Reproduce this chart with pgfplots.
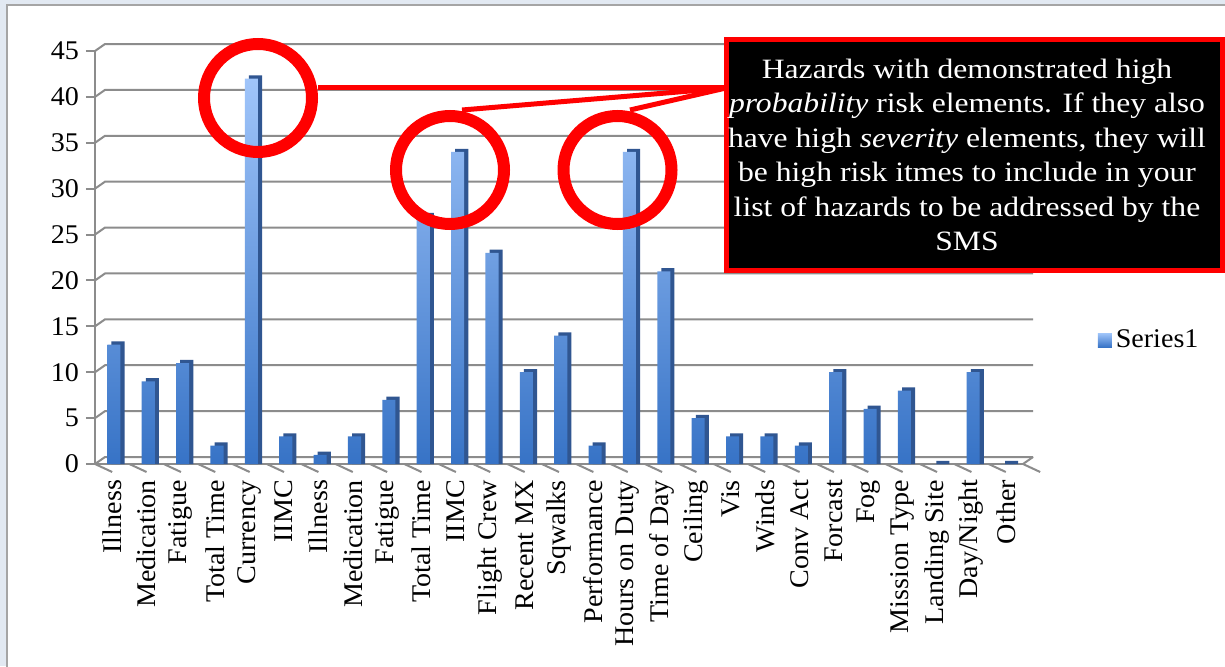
\documentclass[border=0pt]{standalone}
\usepackage{pgfplots}
\pgfplotsset{compat=1.18}
\usepackage{pgfplotstable}
\usepackage{fontspec}
\setmainfont{Liberation Serif}[FakeStretch=1.04]
\newfontfamily\boxfont{Liberation Serif}[FakeStretch=1.13]
\definecolor{barlight}{RGB}{160,197,250}
\definecolor{bardark}{RGB}{55,115,198}
\definecolor{sidec}{RGB}{48,86,145}
\definecolor{gridc}{RGB}{140,140,140}
\definecolor{bgc}{RGB}{226,233,242}
\definecolor{framec}{RGB}{165,165,165}
\definecolor{redc}{RGB}{255,0,0}
\pgfplotstableread[col sep=comma]{
i,label,v
0,Illness,13
1,Medication,9
2,Fatigue,11
3,Total Time,2
4,Currency,42
5,IIMC,3
6,Illness,1
7,Medication,3
8,Fatigue,7
9,Total Time,27
10,IIMC,34
11,Flight Crew,23
12,Recent MX,10
13,Sqwalks,14
14,Performance,2
15,Hours on Duty,34
16,Time of Day,21
17,Ceiling,5
18,Vis,3
19,Winds,3
20,Conv Act,2
21,Forcast,10
22,Fog,6
23,Mission Type,8
24,Landing Site,0
25,Day/Night,10
26,Other,0
}\datatable
\begin{document}
\begin{tikzpicture}
\useasboundingbox (0,0) rectangle (612.5pt,333pt);
\clip (0,0) rectangle (612.5pt,333pt);
\fill[bgc] (0,0) rectangle (612.5pt,333pt);
\filldraw[fill=white, draw=framec, line width=1pt] (3.5pt,330.5pt) rectangle (640pt,-10pt);
\begin{axis}[
  at={(47.5pt,101pt)}, anchor=south west,
  scale only axis, width=464pt, height=206.5pt,
  xmin=-0.5, xmax=26.5, ymin=0, ymax=45,
  clip=false,
  axis lines*=left,
  axis line style={-, draw=gridc, line width=1pt},
  ytick={0,5,...,45},
  ytick style={draw=gridc, line width=1pt},
  tick align=outside,
  major tick length=4.5pt,
  xtick={0,...,26},
  xtick style={draw=none},
  xticklabels from table={\datatable}{label},
  xticklabel style={rotate=90, anchor=east, font=\fontsize{13.5}{14}\selectfont},
  yticklabel style={font=\fontsize{13.5}{14}\selectfont},
  /pgf/number format/assume math mode=true,
  legend style={at={(1.137,0.30)}, anchor=center, draw=none, fill=none,
    font=\fontsize{13.5}{14}\selectfont},
  legend image code/.code={\fill[top color=barlight,bottom color=bardark] (0pt,-3.5pt) rectangle (7pt,3.5pt);},
]
\pgfplotsinvokeforeach{0,5,...,45}{
  \draw[gridc, line width=1pt] (axis cs:-0.5,#1) -- ([shift={(5pt,3.5pt)}]axis cs:-0.5,#1) -- ([shift={(5pt,3.5pt)}]axis cs:26.5,#1);
}
\draw[gridc, line width=1pt] (axis cs:26.5,0) -- ([shift={(5pt,3.5pt)}]axis cs:26.5,0);
\pgfplotsinvokeforeach{-0.5,0.5,...,26.5}{
  \draw[gridc, line width=1pt] (axis cs:#1,0) -- ++(0,-4pt);
}
\addplot[ybar, bar width=0.38, bar shift=0.17, fill=sidec, draw=none, forget plot]
  table[x=i, y expr=\thisrow{v}+0.35] {\datatable};
\addplot[ybar, bar width=0.38, bar shift=0.05, draw=none, top color=barlight, bottom color=bardark]
  table[x=i, y=v] {\datatable};
\addlegendentry{Series1}
\end{axis}
% callout annotations
\draw[redc, line width=2.5pt] (159pt,289.5pt) -- (363pt,289.5pt);
\draw[redc, line width=2.5pt] (231pt,278pt) -- (363pt,289pt);
\draw[redc, line width=2.5pt] (315pt,278pt) -- (363pt,289pt);
\draw[redc, line width=6pt] (129pt,284pt) circle (27pt);
\draw[redc, line width=6pt] (225pt,248pt) circle (27pt);
\draw[redc, line width=6pt] (308.75pt,248pt) circle (27pt);
\filldraw[fill=black, draw=redc, line width=2.5pt] (363pt,313.5pt) rectangle (611pt,198pt);
\node[text=white, align=center, font=\boxfont\fontsize{14}{17.2}\selectfont, anchor=center] at (483.5pt,255.5pt)
 {Hazards with demonstrated high\\ \textit{probability} risk elements. If they also\\ have high \textit{severity} elements, they will\\ be high risk itmes to include in your\\ list of hazards to be addressed by the\\ SMS};
\end{tikzpicture}
\end{document}
